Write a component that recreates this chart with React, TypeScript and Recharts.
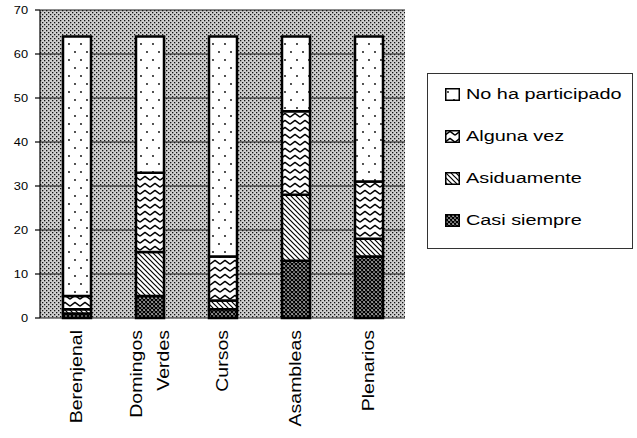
import React from "react";
import {
  BarChart,
  Bar,
  XAxis,
  YAxis,
  CartesianGrid,
} from "recharts";

// values
const categories = ["Berenjenal", "Domingos Verdes", "Cursos", "Asambleas", "Plenarios"];
const casiSiempre = [1, 5, 2, 13, 14];
const asiduamente = [1, 10, 2, 15, 4];
const algunaVez = [3, 18, 10, 19, 13];
const noHaParticipado = [59, 31, 50, 17, 33];

const seriesNames = ["Casi siempre", "Asiduamente", "Alguna vez", "No ha participado"];
const yTicks = [0, 10, 20, 30, 40, 50, 60, 70];
const boundaryTicks = [0, 1, 2, 3, 4, 5];

const data = categories.map((name, i) => ({
  name,
  casi: casiSiempre[i],
  asid: asiduamente[i],
  alguna: algunaVez[i],
  noha: noHaParticipado[i],
}));

const keys = ["casi", "asid", "alguna", "noha"];
const fills = ["url(#pCross)", "url(#pDiag)", "url(#pWave)", "url(#pDots)"];

const FONT = '"Liberation Sans", Arial, Helvetica, sans-serif';

const Patterns = () => (
  <defs>
    <pattern id="pBg" width="4" height="4" patternUnits="userSpaceOnUse">
      <rect width="4" height="4" fill="#cfcfcf" />
      <rect x="0" y="0" width="1.3" height="1.3" fill="#111" />
      <rect x="2" y="2" width="1.3" height="1.3" fill="#111" />
    </pattern>
    <pattern id="pDots" width="12" height="16" patternUnits="userSpaceOnUse">
      <rect width="12" height="16" fill="#fff" />
      <circle cx="3" cy="4" r="0.9" fill="#000" />
      <circle cx="9" cy="12" r="0.9" fill="#000" />
    </pattern>
    <pattern id="pWave" width="10" height="7" patternUnits="userSpaceOnUse">
      <rect width="10" height="7" fill="#fff" />
      <path d="M0,5.2 L5,1.4 L10,5.2" fill="none" stroke="#000" strokeWidth="1.4" strokeLinejoin="round" />
    </pattern>
    <pattern id="pDiag" width="5" height="5" patternUnits="userSpaceOnUse">
      <rect width="5" height="5" fill="#fff" />
      <path d="M0,0 L5,5 M-1,4 L1,6 M4,-1 L6,1" stroke="#000" strokeWidth="1.2" />
    </pattern>
    <pattern id="pCross" width="4" height="4" patternUnits="userSpaceOnUse">
      <rect width="4" height="4" fill="#fff" />
      <path
        d="M0,0 L4,4 M-1,3 L1,5 M3,-1 L5,1 M4,0 L0,4 M-1,1 L1,-1 M3,5 L5,3"
        stroke="#000"
        strokeWidth="1.5"
      />
    </pattern>
  </defs>
);

const XTick = (props: any) => {
  const { x, y, payload } = props;
  const lines = String(payload.value).split(" ");
  const gap = 27;
  return (
    <g transform={`translate(${x},${y + 4})`}>
      <text
        transform="rotate(-90) scale(1.22,1)"
        textAnchor="end"
        fontSize={16}
        fontFamily={FONT}
        fill="#000"
      >
        {lines.map((l, i) => (
          <tspan key={i} x={0} y={(i - (lines.length - 1) / 2) * gap} dy="0.36em">
            {l}
          </tspan>
        ))}
      </text>
    </g>
  );
};

const YTick = (props: any) => {
  const { x, y, payload } = props;
  return (
    <g transform={`translate(${x - 1},${y})`}>
      <text transform="scale(1.28,1)" textAnchor="end" dy="0.36em" fontSize={10} fontFamily={FONT} fill="#000">
        {payload.value}
      </text>
    </g>
  );
};

const LegendBox = () => {
  const order = [3, 2, 1, 0];
  return (
    <div
      style={{
        position: "absolute",
        left: 427,
        top: 73,
        width: 204,
        height: 174,
        border: "1px solid #333",
        fontFamily: FONT,
        boxSizing: "content-box",
      }}
    >
      {order.map((s, i) => (
        <div
          key={s}
          style={{
            position: "absolute",
            left: 17,
            top: 20 + i * 42 - 10,
            height: 20,
            display: "flex",
            alignItems: "center",
          }}
        >
          <svg width={15} height={13} style={{ display: "block" }}>
            <rect x={0.75} y={0.75} width={13.5} height={11.5} fill={fills[s]} stroke="#000" strokeWidth={1.5} />
          </svg>
          <span
            style={{
              marginLeft: 6,
              fontSize: 15.5,
              display: "inline-block",
              transform: "scaleX(1.28)",
              transformOrigin: "left center",
              whiteSpace: "nowrap",
              color: "#000",
            }}
          >
            {seriesNames[s]}
          </span>
        </div>
      ))}
    </div>
  );
};

export default function App() {
  return (
    <div style={{ position: "absolute", left: 0, top: 0, width: 637, height: 438, background: "#fff" }}>
      <BarChart
        width={637}
        height={438}
        data={data}
        margin={{ top: 10, right: 232, bottom: 0, left: 0 }}
        barCategoryGap="0%"
      >
        <Patterns />
        <CartesianGrid vertical={false} fill="url(#pBg)" fillOpacity={1} stroke="#1a1a1a" strokeWidth={1.2} />
        <XAxis
          xAxisId="b"
          type="number"
          domain={[0, 5]}
          ticks={boundaryTicks}
          allowDataOverflow
          tick={false}
          tickSize={6}
          tickLine={{ stroke: "#000", strokeWidth: 1.2 }}
          axisLine={{ stroke: "#000", strokeWidth: 1.2 }}
          height={0}
        />
        <XAxis
          dataKey="name"
          interval={0}
          tick={<XTick />}
          tickLine={false}
          axisLine={false}
          height={120}
        />
        <YAxis
          domain={[0, 70]}
          ticks={yTicks}
          width={40}
          tick={<YTick />}
          tickSize={5}
          tickMargin={6}
          tickLine={{ stroke: "#000", strokeWidth: 1.2 }}
          axisLine={{ stroke: "#000", strokeWidth: 1.2 }}
        />
        {keys.map((k, i) => (
          <Bar
            key={k}
            dataKey={k}
            name={seriesNames[i]}
            stackId="a"
            fill={fills[i]}
            stroke="#000"
            strokeWidth={2.5}
            barSize={28}
            isAnimationActive={false}
          />
        ))}
      </BarChart>
      <LegendBox />
    </div>
  );
}
